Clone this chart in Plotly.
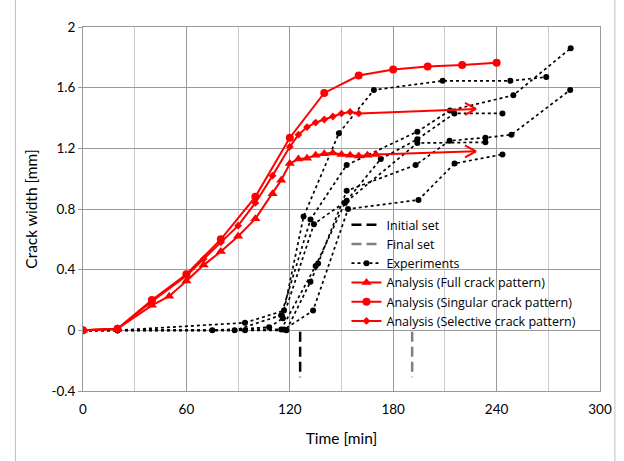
import plotly.graph_objects as go

# ---- analysis curves ----
full_t = [0, 20, 40, 50, 60, 70, 80, 90, 100, 110, 115, 120, 125, 130, 135, 140, 145, 150, 155, 160, 165, 170]
full_w = [0, 0.01, 0.165, 0.225, 0.325, 0.43, 0.52, 0.62, 0.735, 0.90, 0.99, 1.10, 1.13, 1.135, 1.155, 1.165, 1.17, 1.16, 1.155, 1.15, 1.155, 1.16]

sing_t = [0, 20, 40, 60, 80, 100, 120, 140, 160, 180, 200, 220, 240]
sing_w = [0, 0.01, 0.20, 0.37, 0.60, 0.88, 1.27, 1.565, 1.68, 1.72, 1.74, 1.75, 1.765]

sel_t = [0, 20, 40, 60, 70, 80, 90, 100, 110, 120, 125, 130, 135, 140, 145, 150, 155, 160]
sel_w = [0, 0.01, 0.19, 0.36, 0.47, 0.58, 0.69, 0.84, 1.02, 1.21, 1.29, 1.34, 1.37, 1.39, 1.41, 1.43, 1.44, 1.43]

# arrow tips continuing the plateaus
full_arrow_tip = (228, 1.18)
sel_arrow_tip = (228, 1.46)

# ---- experimental records ----
exp_a_t = [0, 20, 94, 116.6, 128, 148.5, 168.8, 208.7, 248, 268.8]
exp_a_w = [0, 0, 0.05, 0.13, 0.75, 1.30, 1.585, 1.645, 1.645, 1.67]
exp_b_t = [0, 20, 88, 115, 132, 153, 194, 213, 249.7, 283]
exp_b_w = [0, 0, 0, 0.10, 0.73, 1.09, 1.31, 1.45, 1.55, 1.86]
exp_c_t = [0, 20, 75, 108, 116, 134, 153, 172.8, 194, 215.5, 243.4]
exp_c_w = [0, 0, 0, 0.02, 0.08, 0.70, 0.855, 1.13, 1.26, 1.43, 1.43]
exp_d_t = [0, 20, 94, 118, 132, 136.4, 153, 193, 212.7, 233.5, 248.6, 282.7]
exp_d_w = [0, 0, 0, 0, 0.32, 0.44, 0.92, 1.09, 1.25, 1.27, 1.29, 1.585]
exp_e_t = [0, 20, 115, 135, 152, 194, 233.5]
exp_e_w = [0, 0, 0.005, 0.425, 0.84, 1.235, 1.24]
exp_f_t = [0, 20, 116.6, 133.5, 153.8, 194.7, 215.6, 243.4]
exp_f_w = [0, 0, 0.005, 0.13, 0.80, 0.86, 1.10, 1.16]
experiments = [
    (exp_a_t, exp_a_w), (exp_b_t, exp_b_w), (exp_c_t, exp_c_w),
    (exp_d_t, exp_d_w), (exp_e_t, exp_e_w), (exp_f_t, exp_f_w),
]

# setting times (marked below the zero line)
initial_set_t = 126
final_set_t = 191
set_mark_w = [-0.01, -0.31]

x_ticks = [0, 60, 120, 180, 240, 300]
y_ticks = [-0.4, 0, 0.4, 0.8, 1.2, 1.6, 2.0]
y_tick_text = ["-0.4", "0", "0.4", "0.8", "1.2", "1.6", "2"]

X_RANGE = [0, 300]
Y_RANGE = [-0.4, 2.0]

W, H = 624, 461
M = dict(l=83, r=21, t=27, b=70)
PLOT_W = W - M["l"] - M["r"]
PLOT_H = H - M["t"] - M["b"]
min_per_px = (X_RANGE[1] - X_RANGE[0]) / PLOT_W
mm_per_px = (Y_RANGE[1] - Y_RANGE[0]) / PLOT_H

FONT = "Lato"
LEGEND_FONT = "Open Sans"
RED = "#ff0000"


def px_to_paper_x(px):
    return (px - M["l"]) / PLOT_W


def px_to_paper_y(py):
    return (H - M["b"] - py) / PLOT_H


fig = go.Figure()

# setting time markers
fig.add_trace(go.Scatter(
    x=[initial_set_t, initial_set_t], y=set_mark_w, mode="lines",
    line=dict(color="black", width=2.5, dash="10px,5px"), name="Initial set"))
fig.add_trace(go.Scatter(
    x=[final_set_t, final_set_t], y=set_mark_w, mode="lines",
    line=dict(color="#808080", width=2.5, dash="10px,5px"), name="Final set"))

# experiments
for i, (t, w) in enumerate(experiments):
    fig.add_trace(go.Scatter(
        x=t, y=w, mode="lines+markers",
        line=dict(color="black", width=1.7, dash="dot"),
        marker=dict(symbol="circle", size=6, color="black"),
        name="Experiments", legendgroup="exp", showlegend=(i == 0)))


def arrow_xy(start, tip, head_len_px=11, head_half_px=6):
    """Shaft plus an open V head, head size given in pixels."""
    dx = head_len_px * min_per_px
    dy = head_half_px * mm_per_px
    xs = [start[0], tip[0], None, tip[0] - dx, tip[0], tip[0] - dx]
    ys = [start[1], tip[1], None, tip[1] + dy, tip[1], tip[1] - dy]
    return xs, ys


# analysis curves
fig.add_trace(go.Scatter(
    x=full_t, y=full_w, mode="lines+markers",
    line=dict(color=RED, width=2), marker=dict(symbol="triangle-up", size=9, color=RED),
    name="Analysis (Full crack pattern)"))
fig.add_trace(go.Scatter(
    x=sing_t, y=sing_w, mode="lines+markers",
    line=dict(color=RED, width=2), marker=dict(symbol="circle", size=8, color=RED),
    name="Analysis (Singular crack pattern)"))
fig.add_trace(go.Scatter(
    x=sel_t, y=sel_w, mode="lines+markers",
    line=dict(color=RED, width=2), marker=dict(symbol="diamond", size=6, color=RED),
    name="Analysis (Selective crack pattern)"))

for t, w, tip in [(full_t, full_w, full_arrow_tip), (sel_t, sel_w, sel_arrow_tip)]:
    ax, ay = arrow_xy((t[-1], w[-1]), tip)
    fig.add_trace(go.Scatter(x=ax, y=ay, mode="lines", line=dict(color=RED, width=2),
                             showlegend=False, hoverinfo="skip"))

fig.update_layout(
    width=W, height=H, margin=M,
    paper_bgcolor="white", plot_bgcolor="white",
    font=dict(family=FONT, size=13, color="black"),
    showlegend=True,
    legend=dict(x=px_to_paper_x(348), y=px_to_paper_y(210),
                xanchor="left", yanchor="top", bgcolor="rgba(0,0,0,0)",
                font=dict(family=LEGEND_FONT, size=12.5), tracegroupgap=0,
                itemwidth=30, borderwidth=0),
    xaxis=dict(range=X_RANGE, tickvals=x_ticks, showgrid=True, gridcolor="#9a9a9a",
               gridwidth=1, zeroline=False, showline=True, linecolor="#9a9a9a", mirror=True,
               ticks="", tickfont=dict(size=13.5), ticklabelstandoff=6,
               minor=dict(dtick=30, showgrid=True, gridcolor="#cccccc", gridwidth=1),
               title=dict(text="Time [min]", font=dict(size=15.5), standoff=16)),
    yaxis=dict(range=Y_RANGE, tickvals=y_ticks, ticktext=y_tick_text, showgrid=True,
               gridcolor="#9a9a9a", gridwidth=1, zeroline=False, showline=True,
               linecolor="#9a9a9a", mirror=True, ticks="outside", ticklen=4,
               tickcolor="#9a9a9a", tickfont=dict(size=13.5),
               title=dict(text="Crack width [mm]", font=dict(size=15.5), standoff=9)),
)

# white panel behind the legend: hides the gridlines, sits under the traces
fig.add_shape(type="rect", xref="paper", yref="paper",
              x0=px_to_paper_x(358), x1=px_to_paper_x(592),
              y0=px_to_paper_y(325), y1=px_to_paper_y(215),
              fillcolor="white", line=dict(width=0), layer="between")

# outer chart border
fig.add_shape(type="rect", xref="paper", yref="paper",
              x0=px_to_paper_x(15), x1=px_to_paper_x(618),
              y0=px_to_paper_y(H + 5), y1=px_to_paper_y(-5),
              line=dict(color="#bfbfbf", width=1), layer="below")

fig.write_html("out.html")
